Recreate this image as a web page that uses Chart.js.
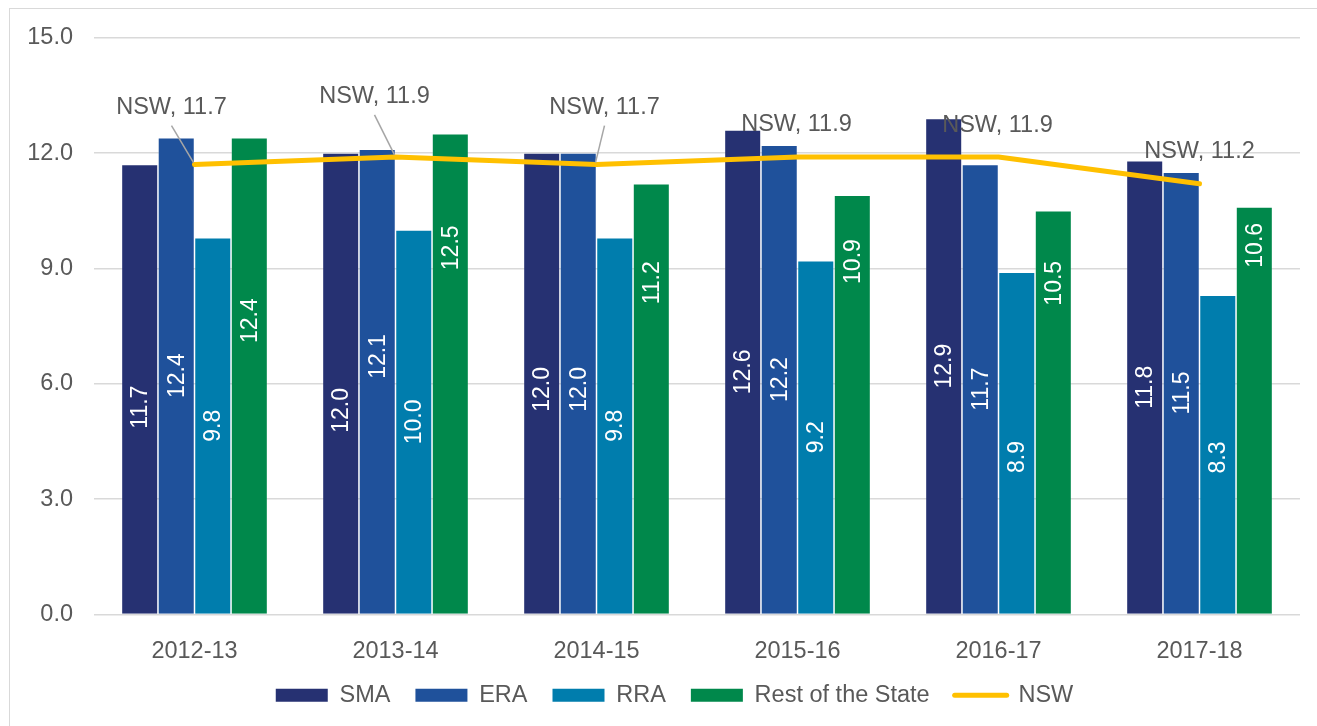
<!DOCTYPE html>
<html><head><meta charset="utf-8">
<script src="https://cdn.jsdelivr.net/npm/chart.js@4.4.1/dist/chart.umd.min.js"></script>
<style>
html,body{margin:0;padding:0;background:#fff;overflow:hidden;}
#wrap{position:relative;width:1317px;height:726px;overflow:hidden;}
#frame{position:absolute;left:9px;top:8px;width:1400px;height:800px;border:1.5px solid #d9d9d9;box-sizing:border-box;}
canvas{position:absolute;left:0;top:0;}
</style></head><body>
<div id="wrap"><div id="frame"></div><canvas id="c" width="1317" height="726"></canvas></div>
<script>
const categories = ['2012-13','2013-14','2014-15','2015-16','2016-17','2017-18'];
const smaValues  = [11.7, 12.0, 12.0, 12.6, 12.9, 11.8];
const eraValues  = [12.4, 12.1, 12.0, 12.2, 11.7, 11.5];
const rraValues  = [9.8, 10.0, 9.8, 9.2, 8.9, 8.3];
const restValues = [12.4, 12.5, 11.2, 10.9, 10.5, 10.6];
const nswValues  = [11.7, 11.9, 11.7, 11.9, 11.9, 11.2];
const yTickLabels = ['0.0','3.0','6.0','9.0','12.0','15.0'];
const seriesNames = ['SMA','ERA','RRA','Rest of the State','NSW'];

const FONT = "'Liberation Sans', Arial, sans-serif";
const TXT = '#595959';

// label placement (layout only)
const barLabelShift = [
  [18, 27, 6, 0, 0, 0],
  [0, -25, 6, 0, 0, 0],
  [0, 0, 0, 0, 14, 3],
  [-55, -126, -116, -143, -129, -165]
];
const nswLabelPos = [
  {dx:-23, dy:-57, leader:true},
  {dx:-21, dy:-60, leader:true},
  {dx:8,   dy:-57, leader:true},
  {dx:-1,  dy:-32, leader:false},
  {dx:-1,  dy:-31, leader:false},
  {dx:0,   dy:-32, leader:false}
];

const barLabels = {
  id:'barLabels',
  afterDatasetsDraw(chart){
    const ctx = chart.ctx;
    ctx.save();
    ctx.font = "23px " + FONT;
    ctx.fillStyle = '#ffffff';
    ctx.textAlign = 'center';
    ctx.textBaseline = 'middle';
    for (let d = 0; d < 4; d++) {
      const meta = chart.getDatasetMeta(d);
      const vals = chart.data.datasets[d].data;
      meta.data.forEach((bar, i) => {
        const cy = (bar.y + bar.base) / 2 + barLabelShift[d][i];
        ctx.save();
        ctx.translate(bar.x, cy);
        ctx.rotate(-Math.PI / 2);
        ctx.fillText(vals[i].toFixed(1), 0, 1);
        ctx.restore();
      });
    }
    // NSW labels
    const meta = chart.getDatasetMeta(4);
    ctx.font = "23.5px " + FONT;
    ctx.fillStyle = TXT;
    meta.data.forEach((pt, i) => {
      const p = nswLabelPos[i];
      const lx = pt.x + p.dx, ly = pt.y + p.dy;
      if (p.leader) {
        ctx.beginPath();
        ctx.strokeStyle = '#a6a6a6';
        ctx.lineWidth = 1.5;
        ctx.moveTo(lx, ly + 18);
        ctx.lineTo(pt.x - 1, pt.y - 2);
        ctx.stroke();
      }
      ctx.fillText('NSW, ' + nswValues[i].toFixed(1), lx, ly);
    });
    ctx.restore();
  }
};

const legendShift = {
  id:'legendShift',
  afterLayout(chart){
    if (chart.legend) { chart.legend.left += 10.5; chart.legend.right += 10.5; }
  }
};

const barColors = ['#263172', '#1F519B', '#007DAD', '#00884B'];
const barSeries = [smaValues, eraValues, rraValues, restValues];

const datasets = barSeries.map((vals, k) => ({
  type:'bar',
  label: seriesNames[k],
  data: vals,
  backgroundColor: barColors[k],
  borderColor: 'rgba(255,255,255,0.25)',
  borderWidth: 0.75,
  pointStyle: 'rect',
  order: 1
}));
datasets.push({
  type:'line',
  label: seriesNames[4],
  data: nswValues,
  borderColor:'#FFC000',
  backgroundColor:'#FFC000',
  borderWidth:5,
  pointRadius:0,
  pointHoverRadius:0,
  pointStyle:'line',
  tension:0,
  borderCapStyle:'round',
  borderJoinStyle:'round',
  clip:false,
  order:-1
});

new Chart(document.getElementById('c'), {
  data: { labels: categories, datasets },
  plugins: [barLabels, legendShift],
  options: {
    responsive:false,
    animation:false,
    devicePixelRatio:1,
    layout:{ padding:{ left:28, right:17, top:37.7, bottom:9 } },
    datasets:{ bar:{ categoryPercentage:0.727, barPercentage:1 } },
    scales:{
      x:{
        offset:true,
        grid:{ display:false },
        border:{ display:false },
        ticks:{ color:TXT, font:{ family:FONT, size:23.5 }, padding:15, maxRotation:0 },
        afterFit(s){ s.height = 44; }
      },
      y:{
        min:0, max:15,
        grid:{ color:'#d9d9d9', lineWidth:1.5, drawTicks:false },
        border:{ display:false },
        ticks:{ stepSize:3, color:TXT, font:{ family:FONT, size:23.5 }, padding:21,
          callback:(v, i) => yTickLabels[i] },
        afterFit(s){ s.width = 66; }
      }
    },
    plugins:{
      tooltip:{ enabled:false },
      legend:{
        position:'bottom',
        labels:{
          usePointStyle:true,
          pointStyleWidth:52,
          boxHeight:13,
          padding:25,
          color:TXT,
          font:{ family:FONT, size:23.5 },
          sort:(a, b) => a.datasetIndex - b.datasetIndex,
          generateLabels(chart){
            const items = Chart.defaults.plugins.legend.labels.generateLabels(chart);
            items.forEach(it => {
              if (it.datasetIndex === 4) {
                it.pointStyle = 'line'; it.strokeStyle = '#FFC000'; it.lineWidth = 5; it.lineCap = 'round';
              } else {
                it.pointStyle = 'rect'; it.lineWidth = 0; it.strokeStyle = 'rgba(0,0,0,0)';
              }
            });
            return items;
          }
        }
      }
    }
  }
});
</script>
</body></html>
